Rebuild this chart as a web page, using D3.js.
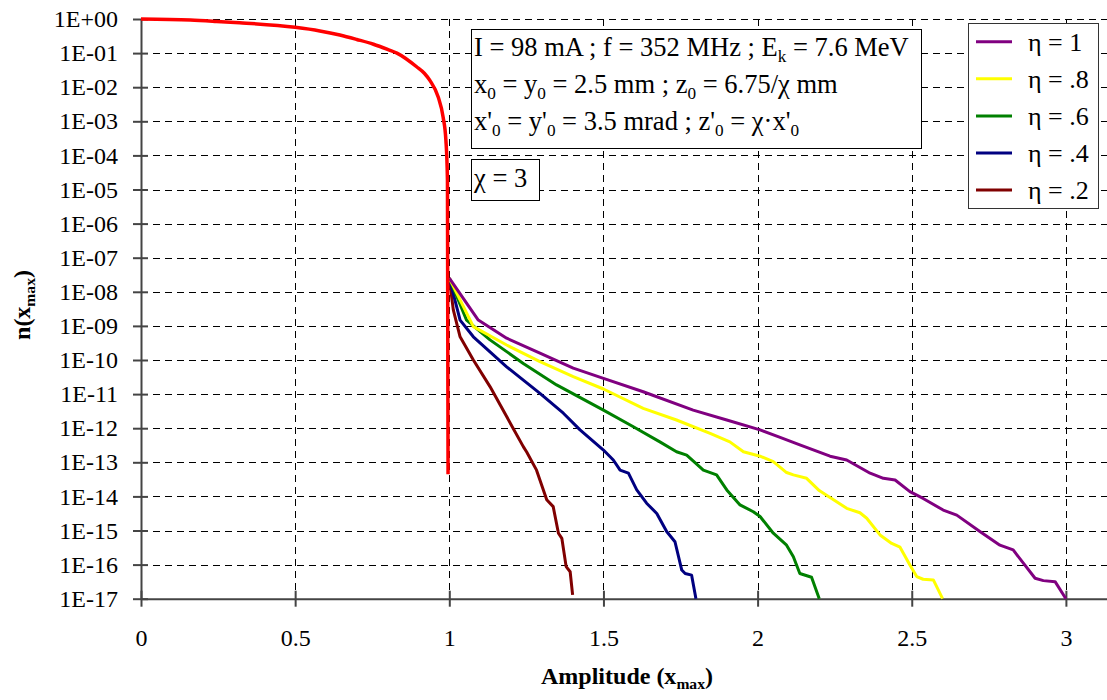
<!DOCTYPE html>
<html lang="en">
  <head>
    <meta charset="utf-8">
    <title>n(xmax) vs amplitude</title>
    <script src="https://cdn.jsdelivr.net/npm/d3@7"></script>
    <style>
      body { margin: 0; background: #fff; }
      svg text, svg tspan { font-family: "Liberation Serif", "Times New Roman", serif !important; white-space: pre; }
    </style>
  </head>
  <body>
    <script>

      var serif = "'Liberation Serif', 'Times New Roman', serif"

      // tick labels
      var xTicks = [0, 0.5, 1, 1.5, 2, 2.5, 3]
      var xTickLabels = ["0", "0.5", "1", "1.5", "2", "2.5", "3"]
      var yTicks = [1e0, 1e-1, 1e-2, 1e-3, 1e-4, 1e-5, 1e-6, 1e-7, 1e-8, 1e-9,
                    1e-10, 1e-11, 1e-12, 1e-13, 1e-14, 1e-15, 1e-16, 1e-17]
      var yTickLabels = ["1E+00", "1E-01", "1E-02", "1E-03", "1E-04", "1E-05", "1E-06", "1E-07", "1E-08",
                         "1E-09", "1E-10", "1E-11", "1E-12", "1E-13", "1E-14", "1E-15", "1E-16", "1E-17"]

      // core curve (red)
      var coreX = [0, 0.16, 0.245, 0.32, 0.5, 0.58, 0.645, 0.70, 0.754, 0.802, 0.83, 0.894, 0.919, 0.937, 0.964, 0.98, 0.989, 0.994, 0.996]
      var coreN = [1, 0.933, 0.851, 0.776, 0.569, 0.447, 0.339, 0.251, 0.182, 0.126, 0.1, 0.0398, 0.0257, 0.0158, 0.00513, 0.00132, 2.75e-4, 1.9e-5, 4.47e-14]

      // halo curves, one per eta
      var eta1X = [1.0, 1.094, 1.186, 1.294, 1.402, 1.5, 1.629, 1.791, 1.9, 2.008, 2.073, 2.137, 2.235, 2.289, 2.365, 2.408, 2.446, 2.494, 2.537, 2.602, 2.646, 2.721, 2.786, 2.829, 2.862, 2.9, 2.927, 2.965, 3.0]
      var eta1N = [2.51e-8, 1.48e-9, 4.37e-10, 1.58e-10, 5.75e-11, 2.88e-11, 1.17e-11, 3.39e-12, 1.74e-12, 8.91e-13, 5.37e-13, 3.24e-13, 1.51e-13, 1.17e-13, 4.79e-14, 3.39e-14, 3.02e-14, 1.38e-14, 8.71e-15, 3.98e-15, 2.82e-15, 9.33e-16, 3.72e-16, 2.69e-16, 1.10e-16, 3.98e-17, 3.39e-17, 3.16e-17, 1e-17]

      var eta08X = [1.0, 1.078, 1.186, 1.294, 1.402, 1.5, 1.629, 1.737, 1.846, 1.91, 1.954, 2.008, 2.051, 2.094, 2.116, 2.159, 2.2, 2.235, 2.289, 2.332, 2.354, 2.397, 2.435, 2.462, 2.494, 2.516, 2.537, 2.57, 2.6]
      var eta08N = [2.51e-8, 9.55e-10, 2.75e-10, 8.91e-11, 3.24e-11, 1.41e-11, 3.80e-12, 1.74e-12, 7.08e-13, 3.98e-13, 2.04e-13, 1.51e-13, 1.05e-13, 5.01e-14, 4.27e-14, 3.39e-14, 1.48e-14, 9.33e-15, 4.47e-15, 3.31e-15, 2.29e-15, 7.41e-16, 4.17e-16, 3.24e-16, 9.77e-17, 4.47e-17, 3.72e-17, 3.55e-17, 1e-17]

      var eta06X = [1.0, 1.056, 1.132, 1.24, 1.348, 1.5, 1.597, 1.683, 1.737, 1.77, 1.824, 1.867, 1.9, 1.943, 1.986, 2.008, 2.051, 2.094, 2.116, 2.137, 2.175, 2.2]
      var eta06N = [2.51e-8, 1.48e-9, 3.89e-10, 7.94e-11, 1.86e-11, 3.39e-12, 1.10e-12, 3.98e-13, 2.04e-13, 1.62e-13, 5.89e-14, 4.27e-14, 1.55e-14, 5.62e-15, 3.55e-15, 2.57e-15, 8.32e-16, 3.72e-16, 1.70e-16, 5.50e-17, 4.27e-17, 1e-17]

      var eta04X = [1.0, 1.035, 1.078, 1.186, 1.294, 1.37, 1.424, 1.5, 1.532, 1.554, 1.581, 1.608, 1.64, 1.673, 1.705, 1.732, 1.754, 1.765, 1.786, 1.8]
      var eta04N = [2.51e-8, 1.48e-9, 4.79e-10, 6.31e-11, 1.05e-11, 2.75e-12, 8.91e-13, 2.29e-13, 1.17e-13, 5.89e-14, 4.79e-14, 1.55e-14, 6.31e-15, 3.16e-15, 9.33e-16, 4.68e-16, 6.92e-17, 5.50e-17, 4.90e-17, 1e-17]

      var eta02X = [1.0, 1.013, 1.035, 1.078, 1.132, 1.186, 1.24, 1.251, 1.283, 1.316, 1.337, 1.354, 1.365, 1.379, 1.392, 1.4]
      var eta02N = [2.51e-8, 2.95e-9, 4.79e-10, 1e-10, 1.66e-11, 2.19e-12, 2.88e-13, 2.0e-13, 5.89e-14, 7.94e-15, 5.01e-15, 8.32e-16, 5.89e-16, 8.71e-17, 6.17e-17, 1.29e-17]

      var seriesNames = ["η = 1", "η = .8", "η = .6", "η = .4", "η = .2"]
      var seriesColors = ["#800080", "#ffff00", "#008000", "#000080", "#800000"]
      var seriesX = [eta1X, eta08X, eta06X, eta04X, eta02X]
      var seriesN = [eta1N, eta08N, eta06N, eta04N, eta02N]

      var svg = d3.select("body").append("svg")
                  .attr("width", 1107)
                  .attr("height", 700)
                  .attr("font-family", serif)

      var x = d3.scaleLinear().domain([0, 3.2]).range([141, 141 + 308.3 * 3.2])
      var y = d3.scaleLog().domain([1e-17, 1]).range([598.7, 19])

      // grid
      svg.append("g").selectAll("line")
         .data(yTicks.slice(0, -1))
         .enter().append("line")
         .attr("x1", 141).attr("x2", 1107)
         .attr("y1", function(d) { return Math.round(y(d)) + 0.5 })
         .attr("y2", function(d) { return Math.round(y(d)) + 0.5 })
         .attr("stroke", "#000").attr("stroke-dasharray", "7,5")

      svg.append("g").selectAll("line")
         .data(xTicks.slice(1))
         .enter().append("line")
         .attr("x1", function(d) { return Math.round(x(d)) + 0.5 })
         .attr("x2", function(d) { return Math.round(x(d)) + 0.5 })
         .attr("y1", 19).attr("y2", 598)
         .attr("stroke", "#000").attr("stroke-dasharray", "7,5")

      // axes
      var yAxis = svg.append("g")
         .attr("transform", "translate(141,0)")
         .call(d3.axisLeft(y).tickValues(yTicks).tickSizeInner(8).tickSizeOuter(0).tickPadding(15)
                 .tickFormat(function(d, i) { return yTickLabels[i] }))
      yAxis.attr("font-family", serif).attr("font-size", 24)
      yAxis.selectAll(".tick line").attr("x1", 7)
      yAxis.selectAll("text").style("font-family", serif).style("font-size", "24px").attr("fill", "#000")
      yAxis.selectAll("line, path").attr("stroke", "#444").attr("stroke-width", 2)

      var xAxis = svg.append("g")
         .attr("transform", "translate(0,598.7)")
         .call(d3.axisBottom(x).tickValues(xTicks).tickSizeInner(8).tickSizeOuter(0).tickPadding(22)
                 .tickFormat(function(d, i) { return xTickLabels[i] }))
      xAxis.attr("font-family", serif).attr("font-size", 24)
      xAxis.selectAll(".tick line").attr("y1", -8)
      xAxis.selectAll("text").style("font-family", serif).style("font-size", "24px").attr("fill", "#000")
      xAxis.selectAll("line, path").attr("stroke", "#444").attr("stroke-width", 2)

      // curves
      var line = d3.line()
          .x(function(d) { return x(d[0]) })
          .y(function(d) { return y(d[1]) })

      for (var s = seriesX.length - 1; s >= 0; s--) {
        svg.append("path")
           .datum(d3.zip(seriesX[s], seriesN[s]))
           .attr("d", line)
           .attr("fill", "none")
           .attr("stroke", seriesColors[s])
           .attr("stroke-width", 3)
           .attr("stroke-linejoin", "round")
      }

      svg.append("path")
         .datum(d3.zip(coreX, coreN))
         .attr("d", line.curve(d3.curveMonotoneX))
         .attr("fill", "none")
         .attr("stroke", "#ff0000")
         .attr("stroke-width", 3.5)

      // rich text with subscripts
      function rich(g, xpos, ypos, parts, size, bold) {
        var t = g.append("text").attr("x", xpos).attr("y", ypos)
                 .style("font-family", serif)
                 .style("font-size", size + "px")
                 .style("font-weight", bold ? "bold" : "normal")
        var low = false
        parts.forEach(function(p) {
          var sp = t.append("tspan").text(p[0])
          if (p[1] && !low) { sp.attr("dy", size * 0.22).style("font-size", (size * 0.65) + "px"); low = true }
          else if (p[1]) { sp.style("font-size", (size * 0.65) + "px") }
          else if (low) { sp.attr("dy", -size * 0.22); low = false }
        })
        return t
      }

      // info box
      svg.append("rect").attr("x", 471.5).attr("y", 29.5).attr("width", 450).attr("height", 119)
         .attr("fill", "#fff").attr("stroke", "#000")
      rich(svg, 474, 56, [["I = 98 mA ; f = 352 MHz ; E"], ["k", 1], [" = 7.6 MeV"]], 26.5)
      rich(svg, 474, 93, [["x"], ["0", 1], [" = y"], ["0", 1], [" = 2.5 mm ; z"], ["0", 1], [" = 6.75/χ mm"]], 26.5)
      rich(svg, 474, 130, [["x'"], ["0", 1], [" = y'"], ["0", 1], [" = 3.5 mrad ; z'"], ["0", 1], [" = χ·x'"], ["0", 1]], 26.5)

      svg.append("rect").attr("x", 471.5).attr("y", 159.5).attr("width", 68).attr("height", 41)
         .attr("fill", "#fff").attr("stroke", "#000")
      rich(svg, 474, 187, [["χ = 3"]], 26.5)

      // legend
      svg.append("rect").attr("x", 968.5).attr("y", 23.5).attr("width", 130).attr("height", 185)
         .attr("fill", "#fff").attr("stroke", "#333")
      var leg = svg.append("g").selectAll("g")
         .data(seriesNames)
         .enter().append("g")
         .attr("transform", function(d, i) { return "translate(0," + (41.7 + i * 37.1) + ")" })
      leg.append("line").attr("x1", 976).attr("x2", 1012)
         .attr("stroke", function(d, i) { return seriesColors[i] }).attr("stroke-width", 3)
      leg.append("text").attr("x", 1028).attr("y", 9)
         .style("font-family", serif).style("font-size", "26px")
         .text(function(d) { return d })

      // axis titles
      rich(svg, 627, 684, [["Amplitude (x"], ["max", 1], [")"]], 24, true).attr("text-anchor", "middle")
      rich(svg.append("g").attr("transform", "translate(30,305) rotate(-90)"), 0, 0,
           [["n(x"], ["max", 1], [")"]], 24, true).attr("text-anchor", "middle")

    </script>
  </body>
</html>
